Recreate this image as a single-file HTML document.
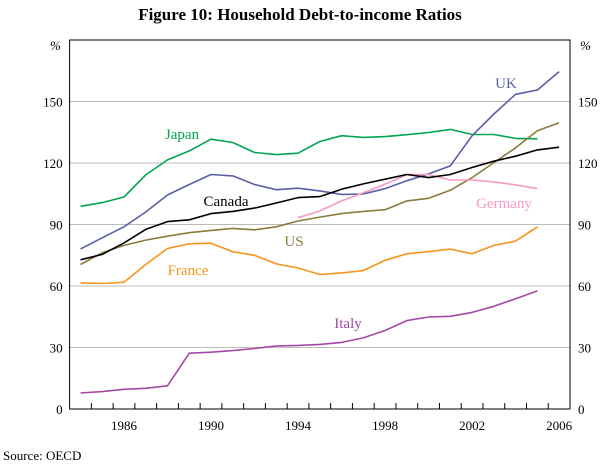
<!DOCTYPE html>
<html><head><meta charset="utf-8"><style>
body{margin:0;background:#fff;font-family:"Liberation Serif",serif}
svg text{font-family:"Liberation Serif",serif}
</style></head><body>
<svg id="c" width="600" height="464" xmlns="http://www.w3.org/2000/svg">
<text x="300" y="20" text-anchor="middle" font-size="17" font-weight="bold">Figure 10: Household Debt-to-income Ratios</text>
<text x="3" y="460" font-size="13">Source: OECD</text>
<g id="grid"></g><g id="axes"></g><g id="lines"></g><g id="labels"></g>
</svg>
<script>
const years=[1984,1985,1986,1987,1988,1989,1990,1991,1992,1993,1994,1995,1996,1997,1998,1999,2000,2001,2002,2003,2004,2005,2006];
const yTicks=[0,30,60,90,120,150];
const xLabels=[1986,1990,1994,1998,2002,2006];
const japan=[98.9,100.7,103.4,114.2,121.5,125.9,131.6,130,125.1,124.1,124.8,130.5,133.3,132.5,132.9,133.8,134.9,136.4,133.9,133.9,132,131.8,null];
const uk=[78.1,83.5,88.9,96.1,104.4,109.5,114.4,113.7,109.5,107,107.7,106.4,104.7,104.9,107.5,111.3,114.7,118.6,133.3,143.9,153.5,155.6,164.6];
const canada=[72.8,75.4,81,87.6,91.4,92.3,95.3,96.4,98,100.5,103.1,103.6,107.2,109.8,112.1,114.4,112.9,114.4,117.8,120.9,123.3,126.4,127.7];
const us=[70.5,76.2,79.8,82.4,84.3,86,87.1,88.1,87.4,88.9,91.7,93.6,95.3,96.4,97.2,101.5,102.8,106.7,112.9,120.2,127.4,135.7,139.6];
const germany=[null,null,null,null,null,null,null,null,null,null,93.3,96.6,101.5,105.5,109.6,114.4,114.4,111.7,111.7,110.8,109.3,107.5,null];
const france=[61.5,61.2,61.8,70.5,78.3,80.6,80.9,76.7,75,70.8,68.8,65.6,66.4,67.5,72.6,75.7,76.8,78,75.7,79.8,81.9,88.9,null];
const italy=[7.8,8.5,9.6,10.1,11.3,27.2,27.7,28.5,29.5,30.8,31,31.5,32.5,34.7,38.3,43.1,44.9,45.2,47.1,50.1,53.8,57.6,null];
const L=69.6,R=570,T=40,B=409,YMAX=180;
const yw=(R-L)/years.length;
const X=i=>L+yw*(i+0.5);
const Y=v=>B-(v/YMAX)*(B-T);
const NS="http://www.w3.org/2000/svg";
function mk(t,p,parent){const e=document.createElementNS(NS,t);for(const k in p)e.setAttribute(k,p[k]);document.getElementById(parent).appendChild(e);return e;}
yTicks.forEach(v=>{
 if(v>0){const g=mk('line',{x1:L,x2:R,y1:Y(v),y2:Y(v),stroke:'#bbb','stroke-width':1},'grid');
 
 }
 const a=mk('text',{x:L-7,y:Y(v)+5,'text-anchor':'end','font-size':13},'axes');a.textContent=v;
 
 
 const b=mk('text',{x:R+8,y:Y(v)+5,'font-size':13},'axes');b.textContent=v;
 
 
});
[[50,'y-unit-left'],[580,'y-unit-right']].forEach(([x,n])=>{const t=mk('text',{x:x,y:50,'font-size':13,'font-style':'italic'},'axes');t.textContent='%';
 
 });
const box=mk('rect',{x:L,y:T,width:R-L,height:B-T,fill:'none',stroke:'#000','stroke-width':1},'axes');


for(let i=1;i<years.length;i++){const t=mk('line',{x1:L+yw*i,x2:L+yw*i,y1:B,y2:B-6,stroke:'#000'},'axes');
 
 }
xLabels.forEach(y=>{const i=years.indexOf(y);const t=mk('text',{x:X(i),y:B+21,'text-anchor':'middle','font-size':13},'axes');t.textContent=y;
 
 });
const series=[['japan',japan,'#00a651'],['uk',uk,'#5b5ea6'],['us',us,'#8c7b3c'],['germany',germany,'#f49ac1'],['canada',canada,'#000'],['france',france,'#f7941d'],['italy',italy,'#a349a4']];
series.forEach(([n,d,c])=>{let pts=[];d.forEach((v,i)=>{if(v!=null)pts.push(X(i).toFixed(1)+','+Y(v).toFixed(1));});
 const p=mk('polyline',{points:pts.join(' '),fill:'none',stroke:c,'stroke-width':1.6,'stroke-linejoin':'round'},'lines');
 
 });
[['Japan',182,139,'#00a651'],['UK',506,88,'#5b5ea6'],['Canada',226,206,'#000'],['Germany',504,208,'#f49ac1'],['US',294,246,'#8c7b3c'],['France',188,275,'#f7941d'],['Italy',348,328,'#a349a4']].forEach(([t,x,y,c])=>{
 const e=mk('text',{x:x,y:y,'text-anchor':'middle','font-size':15,fill:c},'labels');e.textContent=t;
 
 });
</script>
</body></html>
